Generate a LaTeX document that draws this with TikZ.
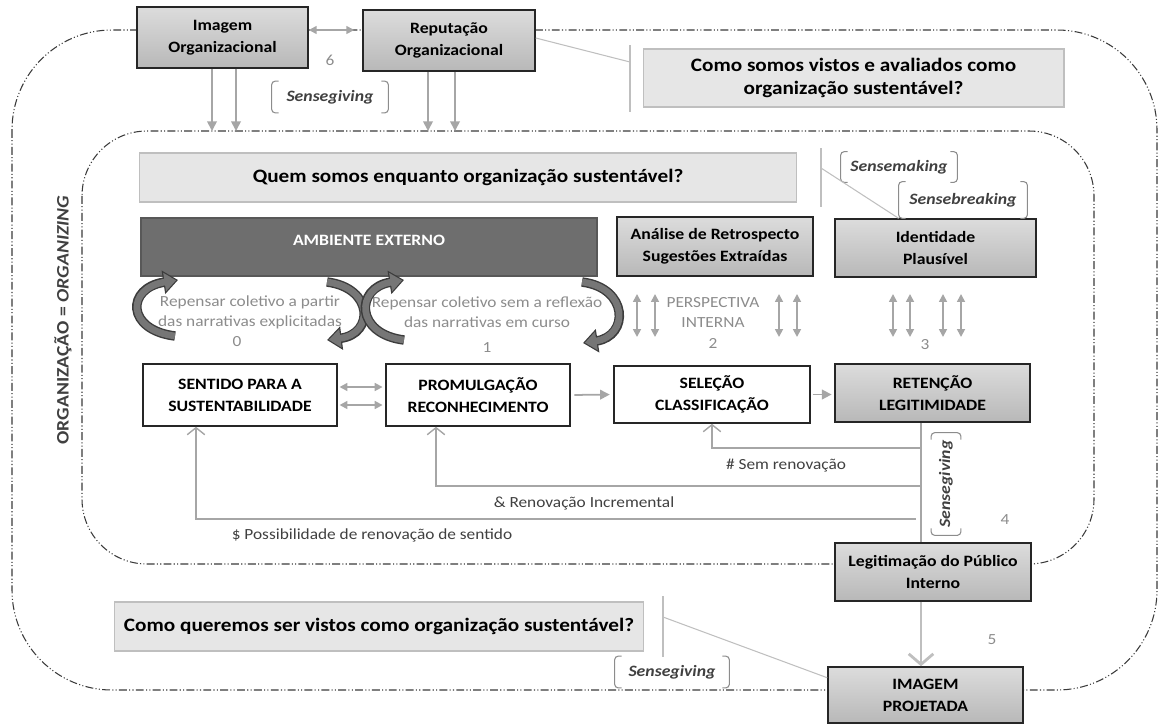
\documentclass[tikz,border=0pt]{standalone}
\usepackage{fontspec}
\setmainfont{Carlito}[FakeStretch=1.12]
\usetikzlibrary{arrows.meta,calc}

\definecolor{gtop}{HTML}{DCDCDC}
\definecolor{gbot}{HTML}{B8B8B8}
\definecolor{boxline}{HTML}{262626}
\definecolor{qfill}{HTML}{E6E6E6}
\definecolor{qline}{HTML}{BFBFBF}
\definecolor{ambfill}{HTML}{6E6E6E}
\definecolor{arrgray}{HTML}{A6A6A6}
\definecolor{txtgray}{HTML}{8C8C8C}
\definecolor{dark}{HTML}{404040}
\definecolor{framecol}{HTML}{3A3A3A}
\definecolor{curvcol}{HTML}{767676}
\definecolor{curvedge}{HTML}{3C3C3C}

\newcommand\dgBoxFont{\fontsize{9}{12.5}\selectfont\bfseries}
\newcommand\dgQFont{\fontsize{10.8}{13}\selectfont\bfseries}
\newcommand\dgNoteFont{\fontsize{8.8}{11.3}\selectfont}
\newcommand\dgBrkFont{\fontsize{9}{11}\selectfont\bfseries\itshape}

\begin{document}
\begin{tikzpicture}[x=0.02cm,y=-0.02cm,
    box/.style={draw=boxline,line width=0.9pt,align=center,inner sep=0pt,font=\dgBoxFont},
    graybox/.style={box,top color=gtop,bottom color=gbot},
    whitebox/.style={box,fill=white},
    qbox/.style={draw=qline,line width=0.6pt,fill=qfill,align=center,inner sep=0pt,font=\dgQFont},
    note/.style={text=txtgray,font=\dgNoteFont,align=center,inner sep=0pt},
    fb/.style={text=dark,font=\dgNoteFont,inner sep=0pt},
    brk/.style={text=dark,font=\dgBrkFont,inner sep=0pt},
    brkline/.style={draw=txtgray,line width=0.6pt,rounded corners=2pt},
    frame/.style={draw=framecol,line width=0.6pt,dash pattern=on 4.5pt off 1.3pt on 0.6pt off 1.3pt on 0.6pt off 1.3pt},
    darr/.style={draw=arrgray,line width=1pt,{Triangle[length=4.5pt,width=4.5pt]}-{Triangle[length=4.5pt,width=4.5pt]}},
    garr/.style={draw=arrgray,line width=1pt,-{Triangle[length=5.5pt,width=5.5pt]}},
    back/.style={draw=arrgray,line width=0.8pt,-{Straight Barb[length=4pt,width=10pt]}},
    link/.style={draw=qline,line width=0.6pt},
    curvout/.style={draw=curvedge,line width=5.4pt,-{Triangle[length=8.4pt,width=13pt]}},
    curvin/.style={draw=curvcol,line width=3.8pt,shorten >=1.1pt,-{Triangle[length=6.6pt,width=10.2pt]}}
  ]
  \useasboundingbox (0,0) rectangle (1159,724);

  % frames
  \draw[frame,rounded corners=2cm] (12,30) rectangle (1157,690);
  \draw[frame,rounded corners=1.3cm] (82,131) rectangle (1094,564);
  \coordinate (inTop) at (0,131);

  \node[font=\fontsize{10}{12}\selectfont\bfseries,text=dark,rotate=90] (org) at (63,320) {ORGANIZAÇÃO = \textit{ORGANIZING}};

  % boxes
  \node[graybox,minimum width=3.42cm,minimum height=1.22cm] (img) at (222.5,37.5) {Imagem\\Organizacional};
  \node[graybox,minimum width=3.44cm,minimum height=1.22cm] (rep) at (449,40.5) {Reputação\\Organizacional};
  \node[qbox,minimum width=8.42cm,minimum height=1.16cm] (q1) at (853.5,78) {Como somos vistos e avaliados como\\organização sustentável?};
  \node[qbox,minimum width=13.16cm,minimum height=0.98cm] (q2) at (468,177.5) {Quem somos enquanto organização sustentável?};
  \node[box,draw=ambfill!80!black,fill=ambfill,minimum width=9.12cm,minimum height=1.16cm] (amb) at (369,247) {};
  \node[font=\dgBoxFont,text=white,inner sep=0pt] (ambt) at (369,240) {AMBIENTE EXTERNO};
  \node[graybox,minimum width=3.92cm,minimum height=1.18cm] (ana) at (715,246.5) {Análise de Retrospecto\\Sugestões Extraídas};
  \node[graybox,minimum width=4.02cm,minimum height=1.16cm] (ide) at (935.5,248) {Identidade\\Plausível};

  \node[whitebox,minimum width=3.88cm,minimum height=1.24cm] (sen) at (240,395) {SENTIDO PARA A\\SUSTENTABILIDADE};
  \node[whitebox,minimum width=3.68cm,minimum height=1.24cm] (pro) at (478,395) {PROMULGAÇÃO\\RECONHECIMENTO};
  \node[whitebox,minimum width=3.92cm,minimum height=1.14cm] (sel) at (712,394.5) {SELEÇÃO\\CLASSIFICAÇÃO};
  \node[graybox,minimum width=3.9cm,minimum height=1.16cm] (ret) at (932.5,393) {RETENÇÃO\\LEGITIMIDADE};
  \node[graybox,minimum width=3.92cm,minimum height=1.16cm] (leg) at (933,572) {Legitimação do Público\\Interno};
  \node[graybox,minimum width=3.9cm,minimum height=1.12cm] (prj) at (925.5,695) {IMAGEM\\PROJETADA};
  \node[qbox,minimum width=10.6cm,minimum height=0.98cm] (q3) at (379,626.5) {Como queremos ser vistos como organização sustentável?};

  % bracketed labels
  \node[brk,minimum width=2.32cm,minimum height=0.62cm] (sg1) at (330,97) {Sensegiving};
  \node[brk,minimum width=2.32cm,minimum height=0.6cm] (smk) at (899,167) {Sensemaking};
  \node[brk,minimum width=2.56cm,minimum height=0.72cm] (sbk) at (963,200) {Sensebreaking};
  \node[brk,rotate=90,minimum width=2.04cm,minimum height=0.58cm] (sg2) at (946,484) {Sensegiving};
  \node[brk,minimum width=2.28cm,minimum height=0.62cm] (sg3) at (672,672) {Sensegiving};
  \foreach \b in {sg1,smk,sbk,sg2,sg3}{
    \draw[brkline] ($(\b.north west)!4pt!(\b.north east)$) -- (\b.north west) -- (\b.south west) -- ($(\b.south west)!4pt!(\b.south east)$);
    \draw[brkline] ($(\b.north east)!4pt!(\b.north west)$) -- (\b.north east) -- (\b.south east) -- ($(\b.south east)!4pt!(\b.south west)$);
  }

  % gray texts
  \node[note] (t0) at (250,312) {Repensar coletivo a partir\\das narrativas explicitadas};
  \node[note] (t1) at (487,312) {Repensar coletivo sem a reflexão\\das narrativas em curso};
  \node[note] (t2) at (713,312.5) {PERSPECTIVA\\INTERNA};
  \node[note] (n0) at (237,342) {0};
  \node[note] (n1) at (487,348) {1};
  \node[note] (n2) at (713,343) {2};
  \node[note] (n3) at (925,345) {3};
  \node[note] (n4) at (1005,520) {4};
  \node[note] (n5) at (992,640) {5};
  \node[note] (n6) at (330,60) {6};

  % curved arrows
  \draw[curvout] (175,336) .. controls (126,330) and (126,288) .. (178,280);
  \draw[curvin]  (175,336) .. controls (126,330) and (126,288) .. (178,280);
  \draw[curvout] (327,282) .. controls (374,288) and (374,334) .. (327,340);
  \draw[curvin]  (327,282) .. controls (374,288) and (374,334) .. (327,340);
  \draw[curvout] (404,340) .. controls (355,334) and (355,288) .. (404,280);
  \draw[curvin]  (404,340) .. controls (355,334) and (355,288) .. (404,280);
  \draw[curvout] (582,282) .. controls (629,288) and (629,336) .. (583,343);
  \draw[curvin]  (582,282) .. controls (629,288) and (629,336) .. (583,343);

  % connectors
  \draw[darr,shorten >=0.16cm] (img.east |- 0,30) -- (rep.west |- 0,30);
  \foreach \x in {212,236} \draw[garr] (\x,0 |- img.south) -- (\x,0 |- inTop);
  \foreach \x in {428,455} \draw[garr] (\x,0 |- rep.south) -- (\x,0 |- inTop);
  \foreach \x in {637,655,779,797,893,910,943,961} \draw[darr] (\x,294) -- (\x,337);

  \draw[darr,shorten <=1pt,shorten >=1.5pt] (sen.east |- 0,387) -- (pro.west |- 0,387);
  \draw[darr,shorten <=1pt,shorten >=1.5pt] (sen.east |- 0,405) -- (pro.west |- 0,405);
  \draw[garr,shorten <=2pt,shorten >=2pt] (pro.east) -- (sel.west);
  \draw[garr,shorten <=1pt,shorten >=1.5pt] (sel.east) -- (ret.west |- sel.east);

  \coordinate (j1) at (921,448);
  \coordinate (j2) at (921,486);
  \coordinate (j3) at (916,519);
  \draw[draw=arrgray,line width=0.9pt] (ret.south -| j1) -- (leg.north -| j1);
  \draw[back] (j1) -- (j1 -| sel.south) -- (sel.south);
  \draw[back] (j2) -- (j2 -| 436,0) -- (436,0 |- pro.south);
  \draw[back] (j3) -- (j3 -| 196,0) -- (196,0 |- sen.south);
  \node[fb] (l1) at (786,466) {\# Sem renovação};
  \node[fb] (l2) at (584,503) {\& Renovação Incremental};
  \node[fb] (l3) at (372,535) {\$ Possibilidade de renovação de sentido};

  \draw[draw=qline,line width=1.6pt,-{Straight Barb[length=6pt,width=14pt]}] (leg.south -| j1) -- (prj.north -| j1);

  % links to questions
  \coordinate (v1a) at (630,45);
  \coordinate (v1b) at (630,112);
  \draw[link] (v1a) -- (v1b);
  \draw[link] (rep.east |- 0,38) -- (630,62);
  \coordinate (v2a) at (821,148);
  \coordinate (v2b) at (821,207);
  \draw[link] (v2a) -- (v2b);
  \draw[link] (821,168) -- (sbk.south west);
  \coordinate (v3a) at (663,596);
  \coordinate (v3b) at (663,657);
  \draw[link] (v3a) -- (v3b);
  \draw[link] (663,617) -- ($(prj.north west)!0.2!(prj.south west)$);
\end{tikzpicture}
\end{document}
